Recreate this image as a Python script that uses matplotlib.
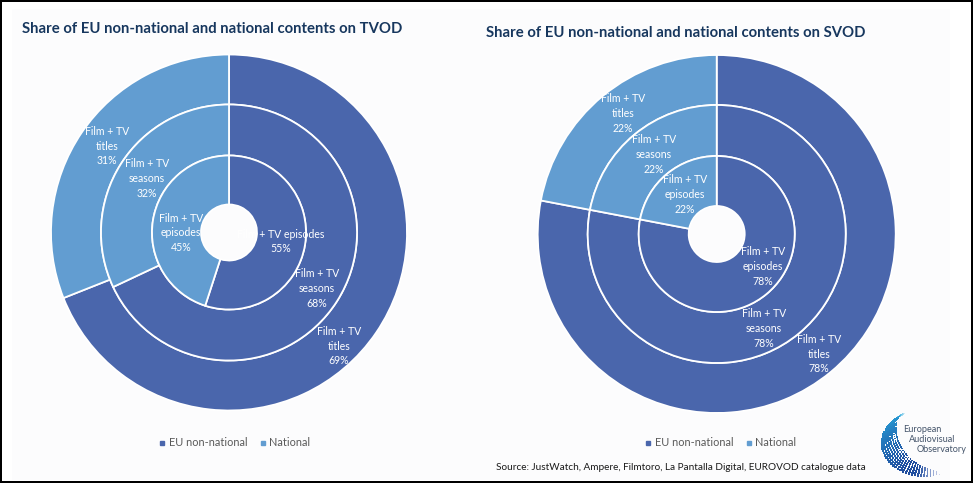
import numpy as np
import matplotlib
matplotlib.use("Agg")
import matplotlib.pyplot as plt
from matplotlib.lines import Line2D
from matplotlib.patches import Rectangle

W, H = 973, 483
plt.rcParams['font.family'] = ['Lato', 'DejaVu Sans']

# ---- data ----
series_names = ["EU non-national", "National"]
ring_names = ["titles", "seasons", "episodes"]
tvod_eu = [69, 68, 55]
tvod_national = [31, 32, 45]
svod_eu = [78, 78, 78]
svod_national = [22, 22, 22]
tvod_title = "Share of EU non-national and national contents on TVOD"
svod_title = "Share of EU non-national and national contents on SVOD"
source_text = "Source: JustWatch, Ampere, Filmtoro, La Pantalla Digital, EUROVOD catalogue data"
logo_words = ["European", "Audiovisual", "Observatory"]

# ---- style ----
DARK = "#4A66AC"
LIGHT = "#629DD1"
PANEL = "#FCFCFD"
TITLE_C = "#17375E"
LEG_C = "#595959"

fig = plt.figure(figsize=(W / 100, H / 100), dpi=100, facecolor="white")
bg = fig.add_axes([0, 0, 1, 1], zorder=0)
bg.set_xlim(0, W); bg.set_ylim(H, 0); bg.axis("off")
bg.add_patch(Rectangle((12, 9), 938, 471, fc=PANEL, ec="none"))


def donut(cx, cy, radii, eu, nat, hole):
    lim = radii[0] + 8
    ax = fig.add_axes([(cx - lim) / W, 1 - (cy + lim) / H, 2 * lim / W, 2 * lim / H], zorder=1)
    for i, r in enumerate(radii):
        inner = radii[i + 1] if i + 1 < len(radii) else hole
        ax.pie([eu[i], nat[i]], radius=r, colors=[DARK, LIGHT], startangle=90,
               counterclock=False,
               wedgeprops=dict(width=r - inner, edgecolor="white", linewidth=1.3))
    ax.set_xlim(-lim, lim); ax.set_ylim(-lim, lim)
    ax.set_aspect("equal")
    return ax


donut(229, 232.5, [178, 128, 77], tvod_eu, tvod_national, 28)
donut(716.7, 234, [179, 129, 78], svod_eu, svod_national, 28)

ov = fig.add_axes([0, 0, 1, 1], zorder=2)
ov.set_xlim(0, W); ov.set_ylim(H, 0); ov.axis("off"); ov.patch.set_alpha(0)

# label anchors in pixels (ring order: titles, seasons, episodes)
tvod_nat_pos = [(107, 146), (147, 178.5), (181, 233)]
tvod_eu_pos = [(339, 346), (317, 288.5), (281, 241.5)]
svod_nat_pos = [(623, 113.5), (654, 154.5), (685, 194.5)]
svod_eu_pos = [(819, 354), (764, 328.5), (763, 266.5)]


def label(pos, ring, val, single=False):
    sep = " " if single else "\n"
    ov.text(pos[0], pos[1], f"Film + TV{sep}{ring}\n{val}%", color="white", fontsize=7.6,
            ha="center", va="center", linespacing=1.42)


for i, ring in enumerate(ring_names):
    label(tvod_nat_pos[i], ring, tvod_national[i])
    label(tvod_eu_pos[i], ring, tvod_eu[i], single=(i == 2))
    label(svod_nat_pos[i], ring, svod_national[i])
    label(svod_eu_pos[i], ring, svod_eu[i])

ov.text(22, 29, tvod_title, fontsize=10.75, fontweight="bold", color=TITLE_C, va="center", ha="left")
ov.text(486, 33, svod_title, fontsize=10.75, fontweight="bold", color=TITLE_C, va="center", ha="left")
ov.text(496, 467, source_text, fontsize=7.2, color="#1a1a1a", va="center", ha="left", zorder=4)

handles = [Line2D([], [], ls="none", marker="s", ms=2.8, color=c) for c in (DARK, LIGHT)]
for xc in (234.5, 720.5):
    leg = ov.legend(handles, series_names, ncol=2, frameon=False, loc="center",
                    bbox_to_anchor=(xc, 443), bbox_transform=ov.transData,
                    fontsize=7.9, labelcolor=LEG_C, handlelength=0.6, handletextpad=0.3,
                    columnspacing=1.1, borderpad=0)
    ov.add_artist(leg)
    ov.legend_ = None

# observatory logo: dotted crescent
c_top = np.array([0.16, 0.65, 0.86]); c_mid = np.array([0.12, 0.30, 0.62])
c_tip = np.array([0.80, 0.82, 0.92]); c_fade = np.array([0.82, 0.93, 0.97])
xs, ys, cs, ss = [], [], [], []
for t in np.linspace(0, 1, 42):
    ang = np.radians(118 + 172 * t)
    ox, oy = 925 + 43 * np.cos(ang), 443 - 33 * np.sin(ang)
    ix, iy = 926 + 29 * np.cos(ang), 432 - 29 * np.sin(ang)
    thick = np.sin(np.pi * t) ** 0.6
    for f in np.linspace(0, 1, 8):
        xs.append(ox + (ix - ox) * f * thick)
        ys.append(oy + (iy - oy) * f * thick)
        col = c_top + (c_mid - c_top) * min(1, t / 0.7)
        if t > 0.82:
            col = c_mid + (c_tip - c_mid) * (t - 0.82) / 0.18
        if t < 0.12:
            col = c_top + (c_fade - c_top) * (0.12 - t) / 0.12
        cs.append(col)
        ss.append((0.5 + 2.8 * thick) * (1.0 - 0.55 * f))
ov.scatter(xs, ys, s=ss, c=cs, marker="s", linewidths=0, zorder=3)
for word, x, y in zip(logo_words, (922, 932, 941.5), (429, 439.5, 450)):
    ov.text(x, y, word, fontsize=6.6, color="#44546A", ha="center", va="center")

# outer black frame
for rect in ((0, 0, W, 2), (0, 480.5, W, 2.5), (0, 0, 2, H), (971, 0, 2, H)):
    ov.add_patch(Rectangle(rect[:2], rect[2], rect[3], fc="black", ec="none", zorder=5))

fig.savefig("out.png", dpi=100, facecolor="white")
